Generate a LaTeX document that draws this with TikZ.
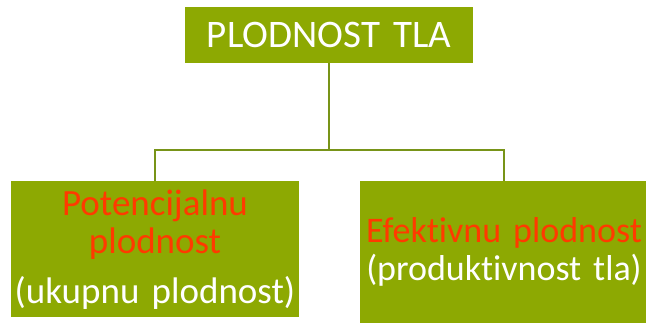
\documentclass[tikz,border=0pt]{standalone}
\usepackage{fontspec}
\setmainfont{Carlito}[Ligatures=NoCommon]
\definecolor{olive}{HTML}{8DA902}
\definecolor{oliveline}{HTML}{789418}
\definecolor{redtext}{HTML}{FF3A00}
\begin{document}
\begin{tikzpicture}[
    x=1pt, y=-1pt,
    box/.style={rectangle, fill=olive, text=white, inner sep=0pt, text width=288pt, align=center, font=\fontsize{37}{38}\selectfont},
    link/.style={draw=oliveline, line width=1.5pt}
]
    \useasboundingbox (0,0) rectangle (646,322);
    \node[box, minimum height=56pt, anchor=north, font=\fontsize{39}{40}\selectfont] (top) at (329,7) {PLODNOST TLA};
    \node[box, minimum height=136pt, anchor=north] (potential) at (155,181)
        {\textcolor{redtext}{Potencijalnu\\plodnost}\\[12pt](ukupnu plodnost)};
    \node[box, minimum height=142pt, anchor=north, font=\fontsize{36}{38}\selectfont] (effective) at (504,181)
        {\textcolor{redtext}{Efektivnu plodnost}\\(produktivnost tla)};
    \coordinate (split) at (329,150);

    \draw[link] (top) -- (split);
    \draw[link] (split) -| (potential);
    \draw[link] (split) -| (effective);
\end{tikzpicture}
\end{document}
